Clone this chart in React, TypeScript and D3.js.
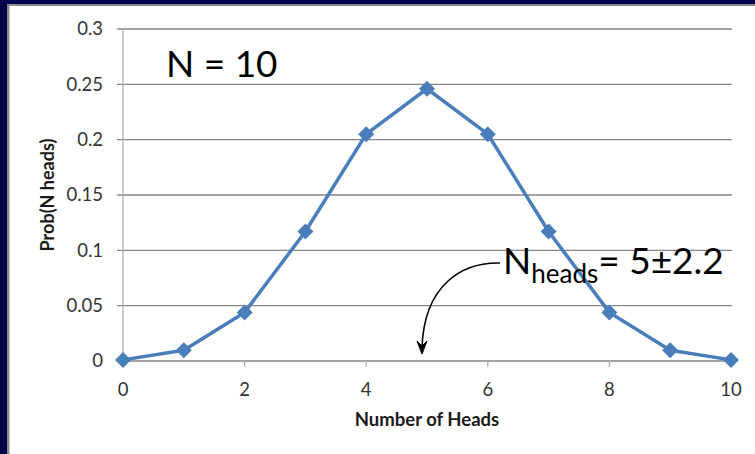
import React from "react";
import * as d3 from "d3";

const heads = [0, 1, 2, 3, 4, 5, 6, 7, 8, 9, 10];
const probs = [0.001, 0.0098, 0.0439, 0.117, 0.205, 0.246, 0.205, 0.117, 0.0439, 0.0098, 0.001];
const yTicks = [0, 0.05, 0.1, 0.15, 0.2, 0.25, 0.3];
const yTickLabels = ["0", "0.05", "0.1", "0.15", "0.2", "0.25", "0.3"];
const xTicks = [0, 2, 4, 6, 8, 10];

const W = 755;
const H = 454;
const FONT = "Lato, 'Open Sans', sans-serif";

export default function App() {
  const x = d3.scaleLinear().domain([0, 10]).range([123, 731]);
  const y = d3.scaleLinear().domain([0, 0.3]).range([361, 29]);
  const line = d3
    .line<number>()
    .x((_, i) => x(heads[i]))
    .y((d) => y(d));
  const pts = probs.map((p, i) => [x(heads[i]), y(p)]);
  const s = 8;

  return (
    <svg
      width={W}
      height={H}
      style={{ position: "absolute", left: 0, top: 0 }}
      fontFamily={FONT}
    >
      <rect x={0} y={0} width={W} height={H} fill="#02024a" />
      <rect x={7} y={4} width={W - 7} height={H - 4} fill="#8a8a8a" />
      <rect x={9.5} y={6} width={W - 9.5} height={H - 6} fill="#ffffff" />

      {/* gridlines */}
      {yTicks.map((t, i) => (
        <line
          key={"g" + i}
          x1={117}
          x2={x(10) + 1}
          y1={y(t)}
          y2={y(t)}
          stroke="#868686"
          strokeWidth={1.3}
        />
      ))}
      {/* y axis */}
      <line x1={x(0)} x2={x(0)} y1={y(0.3)} y2={y(0)} stroke="#b0b0b0" strokeWidth={1.3} />
      {/* x ticks */}
      {xTicks.map((t) => (
        <line
          key={"xt" + t}
          x1={x(t)}
          x2={x(t)}
          y1={y(0)}
          y2={y(0) + 6}
          stroke="#b0b0b0"
          strokeWidth={1.3}
        />
      ))}
      {/* y tick labels */}
      {yTicks.map((t, i) => (
        <text
          key={"yl" + i}
          x={103}
          y={y(t)}
          dy="0.35em"
          textAnchor="end"
          fontSize={18.5}
          fill="#333"
        >
          {yTickLabels[i]}
        </text>
      ))}
      {/* x tick labels */}
      {xTicks.map((t) => (
        <text
          key={"xl" + t}
          x={x(t)}
          y={390}
          dy="0.35em"
          textAnchor="middle"
          fontSize={18.5}
          fill="#333"
        >
          {t}
        </text>
      ))}

      {/* axis titles */}
      <text
        x={427}
        y={420}
        dy="0.35em"
        textAnchor="middle"
        fontSize={18.5}
        fontWeight="bold"
        fill="#1a1a1a"
      >
        Number of Heads
      </text>
      <text
        transform={`translate(48,195) rotate(-90)`}
        dy="0.35em"
        textAnchor="middle"
        fontSize={18}
        fontWeight="bold"
        fill="#1a1a1a"
      >
        Prob(N heads)
      </text>

      {/* series */}
      <path d={line(probs) || ""} fill="none" stroke="#4a7ebb" strokeWidth={3.5} strokeLinejoin="round" />
      {pts.map(([px, py], i) => (
        <path
          key={"m" + i}
          d={`M${px},${py - s}L${px + s},${py}L${px},${py + s}L${px - s},${py}Z`}
          fill="#4a7ebb"
        />
      ))}

      {/* annotations */}
      <text x={166} y={77} fontSize={37} fill="#000">
        N = 10
      </text>
      <text x={503} y={274} fontSize={37} fill="#000">
        N
        <tspan fontSize={26} dy={9}>
          heads
        </tspan>
        <tspan dy={-9}>= 5±2.2</tspan>
      </text>

      {/* arrow */}
      <path
        d="M500,263 C462,262 424,285 422,348"
        fill="none"
        stroke="#000"
        strokeWidth={1.6}
      />
      <path d="M417,341 L422,354 L427,341 L422,346 Z" fill="#000" stroke="#000" strokeWidth={1} strokeLinejoin="round" />
    </svg>
  );
}
